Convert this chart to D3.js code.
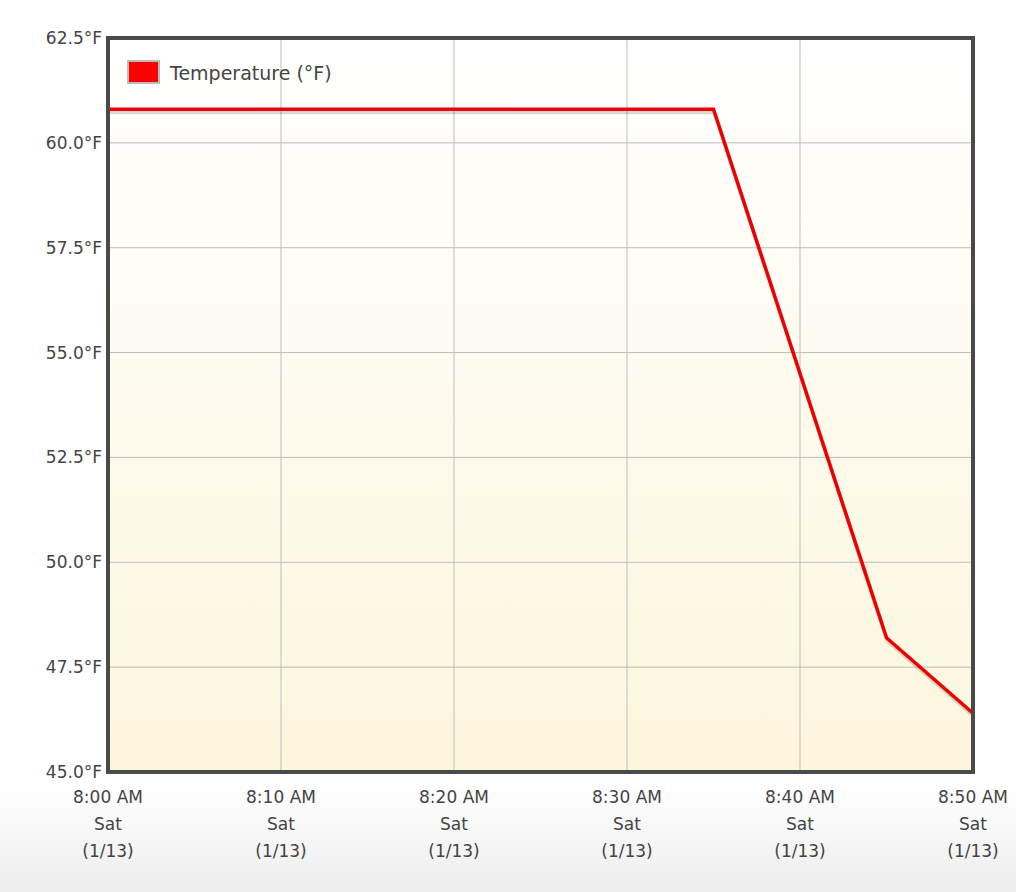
<!DOCTYPE html><html><head><meta charset="utf-8">
<script src="https://cdn.jsdelivr.net/npm/d3@7"></script>
<style>body{margin:0;background:#fff}svg{display:block}</style></head><body>
<svg id="c" width="1016" height="892"></svg>
<script>
const minutes = [0, 5, 10, 15, 20, 25, 30, 35, 45, 50];
const temps = [60.8, 60.8, 60.8, 60.8, 60.8, 60.8, 60.8, 60.8, 48.2, 46.4];
const yTicks = [45, 47.5, 50, 52.5, 55, 57.5, 60, 62.5];
const xTicks = [0, 10, 20, 30, 40, 50];
const xTimeLabels = ["8:00 AM","8:10 AM","8:20 AM","8:30 AM","8:40 AM","8:50 AM"];
const seriesName = "Temperature (°F)";

const svg = d3.select("#c");
const L=108,R=973,T=38,B=772;
const defs = svg.append("defs");
const pg = defs.append("linearGradient").attr("id","pg").attr("x1",0).attr("x2",0).attr("y1",0).attr("y2",1);
pg.append("stop").attr("offset","0").attr("stop-color","#ffffff");
pg.append("stop").attr("offset","0.88").attr("stop-color","#ffffff");
pg.append("stop").attr("offset","1").attr("stop-color","#ededed");
const ag = defs.append("linearGradient").attr("id","ag").attr("x1",0).attr("x2",0).attr("y1",0).attr("y2",1);
ag.append("stop").attr("offset","0").attr("stop-color","#ffffff");
ag.append("stop").attr("offset","1").attr("stop-color","#fcf6dc");
svg.append("rect").attr("width",1016).attr("height",892).attr("fill","url(#pg)");

const x = d3.scaleLinear().domain([0,50]).range([L,R]);
const y = d3.scaleLinear().domain([45,62.5]).range([B,T]);
svg.append("rect").attr("x",L).attr("y",T).attr("width",R-L).attr("height",B-T).attr("fill","url(#ag)");
const g = svg.append("g");
g.selectAll(".gx").data(xTicks.slice(1,-1)).join("line").attr("x1",d=>x(d)).attr("x2",d=>x(d)).attr("y1",T).attr("y2",B).attr("stroke","#bdbdbd");
g.selectAll(".gy").data(yTicks.slice(1,-1)).join("line").attr("y1",d=>y(d)).attr("y2",d=>y(d)).attr("x1",L).attr("x2",R).attr("stroke","#bdbdbd");

const pts = minutes.map((m,i)=>[m,temps[i]]);
const line = d3.line().x(d=>x(d[0])).y(d=>y(d[1]));
svg.append("path").datum(pts).attr("d",line).attr("fill","none").attr("stroke","rgba(0,0,0,0.15)").attr("stroke-width",4).attr("transform","translate(1,3)");
svg.append("path").datum(pts).attr("d",line).attr("fill","none").attr("stroke","#ee0000").attr("stroke-width",3.5).attr("stroke-linejoin","miter");
svg.append("rect").attr("x",L).attr("y",T).attr("width",R-L).attr("height",B-T).attr("fill","none").attr("stroke","#4a4a4a").attr("stroke-width",4);

const font="DejaVu Sans, Verdana, sans-serif";
svg.selectAll(".yl").data(yTicks).join("text").attr("x",L-6).attr("y",d=>y(d)+6).attr("text-anchor","end")
  .attr("font-family",font).attr("font-size",17).attr("fill","#444").text(d=>d.toFixed(1)+"°F");
const xl = svg.selectAll(".xl").data(xTicks).join("text").attr("text-anchor","middle").attr("font-family",font).attr("font-size",17).attr("fill","#444");
xl.each(function(d,i){
  const t=d3.select(this);
  [xTimeLabels[i],"Sat","(1/13)"].forEach((s,j)=>t.append("tspan").attr("x",x(d)).attr("y",803+j*27).text(s));
});
svg.append("rect").attr("x",128).attr("y",61).attr("width",31).attr("height",22).attr("fill","#ff0000").attr("stroke","#bbb").attr("stroke-width",2);
svg.append("text").attr("x",170).attr("y",80).attr("font-family",font).attr("font-size",19).attr("fill","#444").text(seriesName);
</script></body></html>
